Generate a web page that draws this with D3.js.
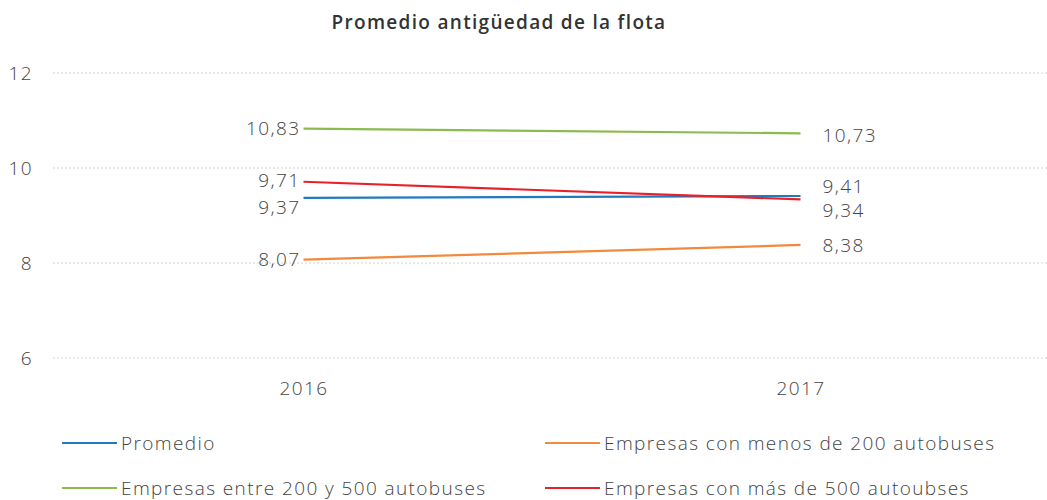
<!DOCTYPE html>
<html>
<head>
<meta charset="utf-8">
<script src="https://cdn.jsdelivr.net/npm/d3@7"></script>
<style>
  html, body { margin: 0; padding: 0; background: #fff; }
  svg { display: block; }
  text { font-family: "Open Sans", Lato, sans-serif; }
</style>
</head>
<body>
<svg id="chart" width="1047" height="500"></svg>
<script>
// Fleet age by company size, 2016 vs 2017
const years = ["2016", "2017"];
const yTicks = [6, 8, 10, 12];
const seriesNames = [
  "Promedio",
  "Empresas con menos de 200 autobuses",
  "Empresas entre 200 y 500 autobuses",
  "Empresas con más de 500 autoubses"
];
const promedio = [9.37, 9.41];
const menos200 = [8.07, 8.38];
const entre200y500 = [10.83, 10.73];
const mas500 = [9.71, 9.34];
const seriesColors = ["#1f7bc0", "#f28a3d", "#8bbb4f", "#e8202a"];

const series = [promedio, menos200, entre200y500, mas500].map((values, i) => ({
  name: seriesNames[i],
  color: seriesColors[i],
  values
}));

const svg = d3.select("#chart");
const fmt = v => d3.format(".2f")(v).replace(".", ",");
const textStyle = sel => sel
  .attr("font-family", "'Open Sans', sans-serif")
  .attr("font-size", 19).attr("font-weight", 300)
  .attr("letter-spacing", 1.4)
  .attr("fill", "#444");

const x = d3.scalePoint().domain(years).range([55, 1049]).padding(0.5);
const y = d3.scaleLinear().domain([6, 12]).range([358, 73]);

// Title
svg.append("text")
  .attr("x", 499).attr("y", 29)
  .attr("text-anchor", "middle")
  .attr("font-family", "'Open Sans', sans-serif")
  .attr("font-size", 19).attr("font-weight", 600)
  .attr("letter-spacing", 1.3)
  .attr("fill", "#333")
  .text("Promedio antigüedad de la flota");

// Y axis labels
const yAxis = d3.axisLeft(y).tickValues(yTicks).tickSize(0).tickPadding(0).tickFormat(d3.format("d"));
const gy = svg.append("g").attr("transform", "translate(33,0)").call(yAxis);
gy.select(".domain").remove();
gy.selectAll("text").call(textStyle);

// Dotted horizontal gridlines
svg.append("g").selectAll("line")
  .data(yTicks)
  .join("line")
  .attr("x1", 53).attr("x2", 1047)
  .attr("y1", d => y(d)).attr("y2", d => y(d))
  .attr("stroke", "#d2d2d2").attr("stroke-width", 1.2)
  .attr("stroke-dasharray", "2,2");

// Category axis
const xAxis = d3.axisBottom(x).tickSize(0).tickPadding(0);
const gx = svg.append("g").attr("transform", "translate(0,381)").call(xAxis);
gx.select(".domain").remove();
gx.selectAll("text").call(textStyle);

// Lines
const line = d3.line().x((d, i) => x(years[i])).y(d => y(d));
svg.append("g").selectAll("path")
  .data(series)
  .join("path")
  .attr("d", d => line(d.values))
  .attr("fill", "none")
  .attr("stroke", d => d.color)
  .attr("stroke-width", 2.2);

// Value labels; small offsets keep close values apart
const leftOffsets = [9, 0, 0, -1];
const rightOffsets = [-10, 0, 2, 11];
const labels = svg.append("g");
series.forEach((s, i) => {
  labels.append("text")
    .attr("x", x(years[0]) - 3)
    .attr("y", y(s.values[0]) + leftOffsets[i])
    .attr("dy", "0.35em")
    .attr("text-anchor", "end")
    .call(textStyle)
    .text(fmt(s.values[0]));
  labels.append("text")
    .attr("x", x(years[1]) + 22)
    .attr("y", y(s.values[1]) + rightOffsets[i])
    .attr("dy", "0.35em")
    .attr("text-anchor", "start")
    .call(textStyle)
    .text(fmt(s.values[1]));
});

// Legend
const legendPos = [[62, 443], [545, 443], [62, 488], [545, 488]];
const legend = svg.append("g").selectAll("g")
  .data(series)
  .join("g")
  .attr("transform", (d, i) => `translate(${legendPos[i][0]},${legendPos[i][1]})`);
legend.append("line")
  .attr("x1", 0).attr("x2", 55)
  .attr("stroke", d => d.color).attr("stroke-width", 2.2);
legend.append("text")
  .attr("x", 59).attr("dy", "0.35em")
  .call(textStyle)
  .text(d => d.name);
</script>
</body>
</html>
